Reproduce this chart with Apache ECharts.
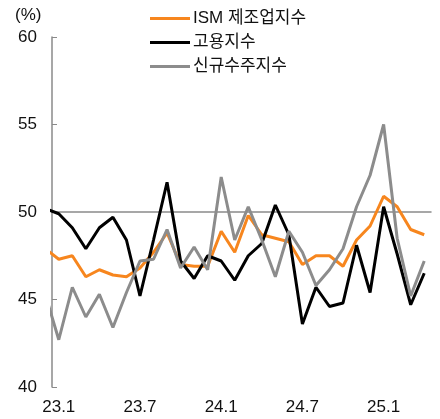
<!DOCTYPE html>
<html>
<head>
<meta http-equiv="content-type" content="text/html; charset=utf-8"/>
<title>ISM 제조업지수</title>
<style type="text/css">body,html{width:100%;height:100%;margin:0;background:#fff}#chart{width:440px;height:419px}</style>
<script src="https://cdn.jsdelivr.net/npm/echarts@6/dist/echarts.min.js"></script>
</head>
<body>
<div id="chart"></div>
<script>
	// 월별 카테고리 (첫 항목 22.12는 축 왼쪽에서 잘려 보이는 구간)
	var months = ['22.12','23.1','23.2','23.3','23.4','23.5','23.6','23.7','23.8','23.9','23.10','23.11','23.12',
		'24.1','24.2','24.3','24.4','24.5','24.6','24.7','24.8','24.9','24.10','24.11','24.12',
		'25.1','25.2','25.3','25.4'];
	var ismIndex = [47.9,47.3,47.5,46.3,46.7,46.4,46.3,46.8,47.7,48.8,47.0,46.9,46.9,
		48.9,47.7,49.8,48.7,48.5,48.3,47.0,47.5,47.5,46.9,48.4,49.2,50.9,50.3,49.0,48.7];
	var employment = [50.2,49.9,49.1,47.9,49.1,49.7,48.4,45.2,48.4,51.7,47.2,46.2,47.5,
		47.2,46.1,47.5,48.2,50.4,48.7,43.6,45.7,44.6,44.8,48.1,45.4,50.3,47.6,44.7,46.5];
	var newOrders = [45.3,42.7,45.7,44.0,45.3,43.4,45.4,47.2,47.3,49.0,46.8,48.0,46.7,
		52.0,48.4,50.3,48.4,46.3,48.9,47.7,45.8,46.7,47.9,50.3,52.1,55.0,48.5,45.2,47.2];
	var tickFont = '"Liberation Sans", "Noto Sans CJK KR", sans-serif';

	// 23.1부터 6개월마다 눈금/라벨
	function everyHalfYear(idx) {
		return idx >= 1 && (idx - 1) % 6 === 0;
	}

	var chart = echarts.init(document.getElementById('chart'));
	var option = {
		animation: false,
		grid: {left: 52, right: 9, top: 37, bottom: 32},
		legend: {
			orient: 'vertical',
			left: 145,
			top: 4,
			icon: 'rect',
			itemWidth: 40,
			itemHeight: 3,
			itemGap: 5,
			textStyle: {fontFamily: tickFont, fontSize: 17, color: '#111', lineHeight: 19, padding: [0, 0, 0, -2]},
			data: ['ISM 제조업지수', '고용지수', '신규수주지수']
		},
		graphic: [{
			type: 'text',
			left: 15,
			top: 7,
			style: {text: '(%)', fontFamily: tickFont, fontSize: 17, fill: '#111'}
		}],
		xAxis: {
			type: 'category',
			data: months,
			min: 1,
			boundaryGap: true,
			offset: -175,
			axisLine: {lineStyle: {color: '#8a8a8a', width: 1.5}},
			axisTick: {inside: true, length: 4, interval: everyHalfYear, lineStyle: {color: '#8a8a8a', width: 1.2}},
			axisLabel: {interval: everyHalfYear, margin: 187, fontFamily: tickFont, fontSize: 17, color: '#111'},
			splitLine: {show: false}
		},
		yAxis: {
			type: 'value',
			min: 40,
			max: 60,
			interval: 5,
			axisLine: {show: true, lineStyle: {color: '#8a8a8a', width: 1.5}},
			axisTick: {show: true, inside: true, length: 5, lineStyle: {color: '#8a8a8a'}},
			axisLabel: {margin: 15, fontFamily: tickFont, fontSize: 17, color: '#111'},
			splitLine: {show: false}
		},
		series: [{
			name: 'ISM 제조업지수',
			type: 'line',
			data: ismIndex,
			symbol: 'none',
			clip: true,
			z: 2,
			lineStyle: {color: '#f7861e', width: 3},
			itemStyle: {color: '#f7861e'}
		}, {
			name: '고용지수',
			type: 'line',
			data: employment,
			symbol: 'none',
			clip: true,
			z: 3,
			lineStyle: {color: '#000000', width: 3},
			itemStyle: {color: '#000000'}
		}, {
			name: '신규수주지수',
			type: 'line',
			data: newOrders,
			symbol: 'none',
			clip: true,
			z: 4,
			lineStyle: {color: '#8c8c8c', width: 3},
			itemStyle: {color: '#8c8c8c'}
		}]
	};
	chart.setOption(option);
</script>
</body>
</html>
